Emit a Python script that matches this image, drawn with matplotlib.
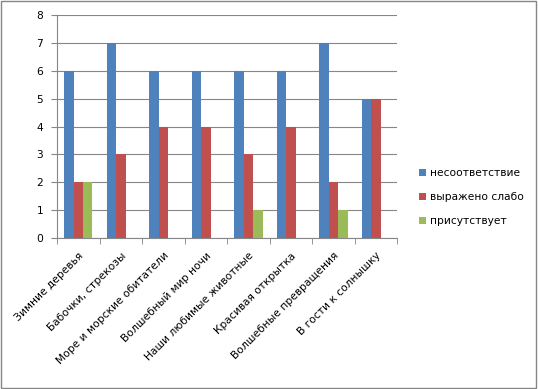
import numpy as np
import matplotlib.pyplot as plt
from matplotlib.patches import Rectangle

plt.rcParams['font.family'] = ['DejaVu Sans']

categories = ["Зимние деревья", "Бабочки, стрекозы", "Море и морские обитатели",
              "Волшебный мир ночи", "Наши любимые животные", "Красивая открытка",
              "Волшебные превращения", "В гости к солнышку"]
series_names = ["несоответствие", "выражено слабо", "присутствует"]
mismatch = [6, 7, 6, 6, 6, 6, 7, 5]
weak = [2, 3, 4, 4, 3, 4, 2, 5]
present = [2, 0, 0, 0, 1, 0, 1, 0]
colors = ['#4F81BD', '#C0504D', '#9BBB59']

fig = plt.figure(figsize=(5.38, 3.89), dpi=100)
ax = fig.add_axes([0.106, 0.388, 0.632, 0.573])

x = np.arange(len(categories))
w = 0.223
for i, (vals, name, c) in enumerate(zip([mismatch, weak, present], series_names, colors)):
    ax.bar(x - w + i * w, vals, width=w, color=c, label=name, zorder=3)

ax.set_xlim(-0.5, len(categories) - 0.5)
ax.set_ylim(0, 8)
ax.set_yticks(range(0, 9))
ax.yaxis.grid(True, color='#868686', linewidth=0.8, zorder=0)

ax.set_xticks(x)
ax.set_xticklabels(categories, rotation=45, ha='right', rotation_mode='anchor', fontsize=7.7)
ax.set_xticks(np.arange(-0.5, len(categories)), minor=True)
ax.tick_params(axis='x', which='major', length=0, pad=9)
ax.tick_params(axis='x', which='minor', length=4, color='#868686', direction='out')
ax.tick_params(axis='y', length=4, color='#868686', labelsize=7.7, pad=6)

for s in ['top', 'right']:
    ax.spines[s].set_visible(False)
for s in ['left', 'bottom']:
    ax.spines[s].set_color('#868686')
    ax.spines[s].set_linewidth(0.8)

fig.legend(loc='upper left', bbox_to_anchor=(0.77, 0.578), frameon=False,
           fontsize=7.7, handlelength=0.7, handleheight=0.7, handletextpad=0.4,
           labelspacing=1.3, borderaxespad=0)

fig.add_artist(Rectangle((0.002, 0.003), 0.995, 0.994, transform=fig.transFigure,
                         fill=False, edgecolor='#868686', linewidth=1))

fig.savefig('out.png', dpi=100)
